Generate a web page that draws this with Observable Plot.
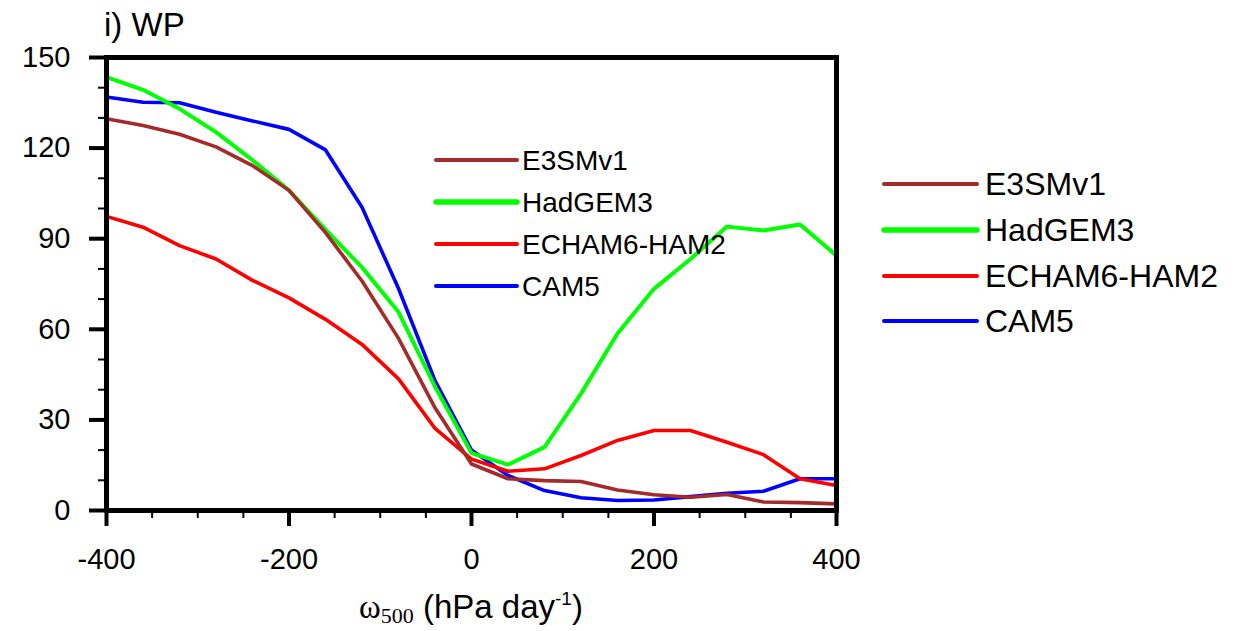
<!DOCTYPE html>
<html>
<head>
<meta charset="utf-8">
<script src="https://cdn.jsdelivr.net/npm/d3@7"></script>
<script src="https://cdn.jsdelivr.net/npm/@observablehq/plot@0.6"></script>
<style>
  html, body { margin: 0; padding: 0; background: #fff; }
  #chart { position: relative; width: 1248px; height: 631px; font-family: "Liberation Sans", Arial, Helvetica, sans-serif; }
  #chart svg.overlay { position: absolute; left: 0; top: 0; pointer-events: none; }
</style>
</head>
<body>
<div id="chart"></div>
<script>
// Vertical velocity bins at 500 hPa (hPa day^-1)
const omega = [-400, -360, -320, -280, -240, -200, -160, -120, -80, -40, 0,
               40, 80, 120, 160, 200, 240, 280, 320, 360, 400];

// Water path per model in each omega bin
const e3smv1   = [129.7, 127.5, 124.6, 120.4, 114.2, 106.0, 92.0, 76.0, 57.0, 34.0, 15.4,
                  10.5, 9.9, 9.6, 6.8, 5.2, 4.4, 5.3, 2.8, 2.6, 2.2];
const hadgem3  = [143.5, 139.3, 133.0, 125.3, 116.0, 106.0, 93.0, 80.5, 65.7, 41.0, 19.0,
                  15.2, 21.0, 38.7, 58.6, 73.4, 83.3, 94.0, 92.7, 94.7, 84.4];
const echam6   = [97.4, 93.8, 87.7, 83.3, 76.2, 70.4, 63.3, 55.0, 43.6, 27.2, 17.0,
                  13.0, 13.8, 18.2, 23.2, 26.5, 26.5, 22.6, 18.5, 10.5, 8.3];
const cam5     = [136.9, 135.2, 135.0, 131.9, 129.0, 126.2, 119.4, 100.4, 73.5, 43.0, 20.0,
                  11.6, 6.6, 4.2, 3.3, 3.5, 4.6, 5.7, 6.4, 10.5, 10.5];

const modelNames  = ["E3SMv1", "HadGEM3", "ECHAM6-HAM2", "CAM5"];
const modelColors = ["#a52a2a", "#00ff00", "#ff0000", "#0000ff"];
const modelValues = [e3smv1, hadgem3, echam6, cam5];

// Axis ticks
const xMajor = [-400, -200, 0, 200, 400];
const xMinor = [-350, -300, -250, -150, -100, -50, 50, 100, 150, 250, 300, 350];
const yMajor = [0, 30, 60, 90, 120, 150];
const yMinor = [10, 20, 40, 50, 70, 80, 100, 110, 130, 140];

const panelTitle = "i) WP";

// Long table for the line marks (drawn so that E3SMv1 sits on top)
const drawOrder = [3, 1, 2, 0];
const rows = drawOrder.flatMap(i =>
  omega.map((w, j) => ({model: modelNames[i], omega: w, value: modelValues[i][j]})));

const plot = Plot.plot({
  width: 1248,
  height: 631,
  marginLeft: 106,
  marginRight: 412,
  marginTop: 57,
  marginBottom: 121,
  style: {fontFamily: "'Liberation Sans', Arial, Helvetica, sans-serif", background: "#fff", overflow: "visible"},
  x: {domain: [-400, 400], label: null},
  y: {domain: [0, 150], label: null},
  color: {domain: modelNames, range: modelColors},
  marks: [
    Plot.axisX({ticks: xMinor, tickSize: 8, tickFormat: () => "", strokeWidth: 2, label: null}),
    Plot.axisX({ticks: xMajor, tickSize: 16, tickPadding: 22, tickFormat: d => String(d),
                fontSize: 29, strokeWidth: 4, label: null}),
    Plot.axisY({ticks: yMinor, tickSize: 8, tickFormat: () => "", strokeWidth: 2, label: null}),
    Plot.axisY({ticks: yMajor, tickSize: 17, tickPadding: 19, tickFormat: d => String(d),
                fontSize: 29, strokeWidth: 4, label: null}),
    Plot.line(rows, {x: "omega", y: "value", z: "model", stroke: "model",
                     strokeWidth: d => d.model === "HadGEM3" ? 4 : 3.6,
                     strokeLinejoin: "round"}),
    Plot.frame({stroke: "black", strokeWidth: 5})
  ]
});

const chart = document.getElementById("chart");
chart.appendChild(plot);

// Title, axis label and the two legends in an overlay
const ns = "http://www.w3.org/2000/svg";
const svg = d3.select(chart).append("svg")
  .attr("class", "overlay")
  .attr("xmlns", ns)
  .attr("width", 1248)
  .attr("height", 631)
  .style("font-family", "'Liberation Sans', Arial, Helvetica, sans-serif");

svg.append("text")
  .attr("x", 104).attr("y", 36)
  .attr("font-size", 33)
  .text(panelTitle);

const xl = svg.append("text")
  .attr("x", 471).attr("y", 618)
  .attr("text-anchor", "middle")
  .attr("font-size", 33);
xl.append("tspan").attr("font-family", "'Liberation Serif', 'DejaVu Serif', serif").text("ω");
xl.append("tspan").attr("font-family", "'Liberation Serif', 'DejaVu Serif', serif")
  .attr("font-size", 22).attr("dy", 5).text("500");
xl.append("tspan").attr("dy", -5).text(" (hPa day");
xl.append("tspan").attr("font-size", 19).attr("dy", -13).text("-1");
xl.append("tspan").attr("dy", 13).text(")");

function legend(x0, x1, tx, ys, fs) {
  modelNames.forEach((name, i) => {
    const g = svg.append("g");
    g.append("line")
      .attr("x1", x0).attr("x2", x1).attr("y1", ys[i]).attr("y2", ys[i])
      .attr("stroke", modelColors[i])
      .attr("stroke-width", name === "HadGEM3" ? 5.5 : 4)
      .attr("stroke-linecap", "round");
    g.append("text")
      .attr("x", tx).attr("y", ys[i] + 0.358 * fs)
      .attr("font-size", fs)
      .text(name);
  });
}
legend(436, 517, 522, [160, 202, 244, 286], 28);
legend(884, 977, 985, [184, 230, 276, 321], 32);
</script>
</body>
</html>
